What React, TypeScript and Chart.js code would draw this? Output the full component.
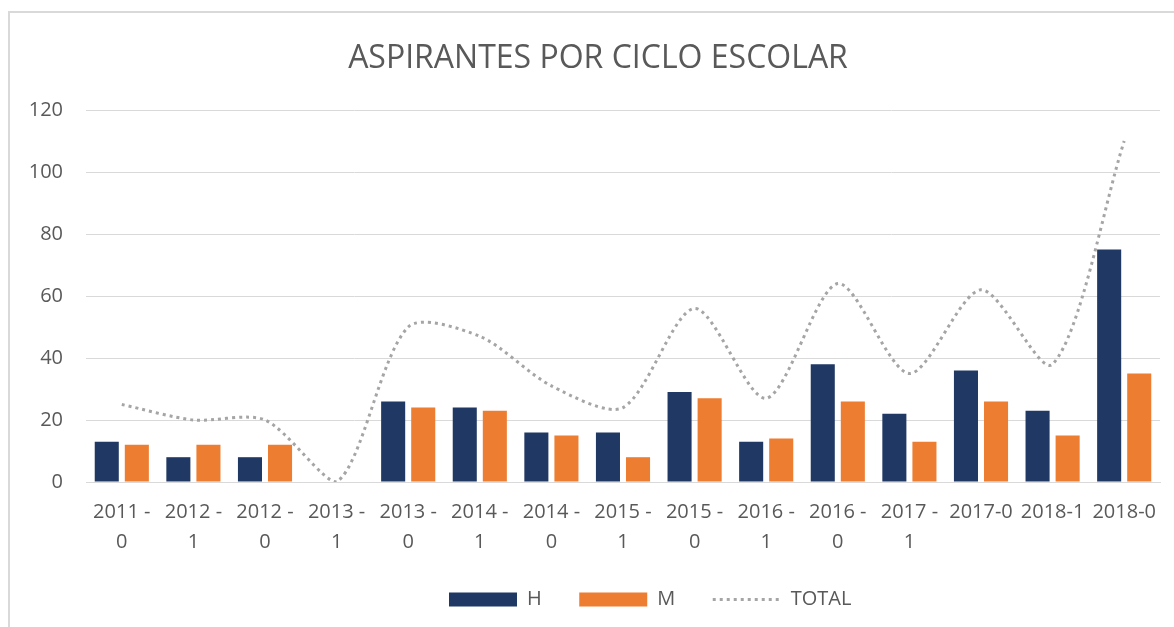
import React, { useEffect, useRef } from "react";
import { Chart, registerables } from "chart.js";

Chart.register(...registerables);

const chartTitle = "ASPIRANTES POR CICLO ESCOLAR";
const categories: (string | string[])[] = [
  ["2011 -", "0"],
  ["2012 -", "1"],
  ["2012 -", "0"],
  ["2013 -", "1"],
  ["2013 -", "0"],
  ["2014 -", "1"],
  ["2014 -", "0"],
  ["2015 -", "1"],
  ["2015 -", "0"],
  ["2016 -", "1"],
  ["2016 -", "0"],
  ["2017 -", "1"],
  "2017-0",
  "2018-1",
  "2018-0",
];
const hValues = [13, 8, 8, 0, 26, 24, 16, 16, 29, 13, 38, 22, 36, 23, 75];
const mValues = [12, 12, 12, 0, 24, 23, 15, 8, 27, 14, 26, 13, 26, 15, 35];
const totalValues = [25, 20, 20, 0, 50, 47, 31, 24, 56, 27, 64, 35, 62, 38, 110];
const seriesNames = ["H", "M", "TOTAL"];
const yTicks = [0, 20, 40, 60, 80, 100, 120];

const W = 1174;
const H = 627;
const LEGEND_START_X = 449;
const TITLE_SHIFT_X = 18;
const TEXT = "#595959";
const GRID = "#d9d9d9";

const blockShift = {
  id: "blockShift",
  afterLayout(chart: any) {
    const lg = chart.legend;
    if (lg && lg.lineWidths) {
      const pad = lg.options.labels.padding;
      const x0 = (lg.left + pad + lg.right - lg.lineWidths[0]) / 2;
      const dx = LEGEND_START_X - x0;
      lg.left += dx;
      lg.right += dx;
    }
    const tb = chart.titleBlock;
    if (tb) {
      tb.left += TITLE_SHIFT_X;
      tb.right += TITLE_SHIFT_X;
    }
  },
};

export default function App() {
  const ref = useRef<HTMLCanvasElement | null>(null);

  useEffect(() => {
    if (!ref.current) return;
    const chart = new Chart(ref.current, {
      type: "bar",
      data: {
        labels: categories,
        datasets: [
          {
            type: "bar",
            label: seriesNames[0],
            data: hValues,
            backgroundColor: "#203864",
            borderWidth: 0,
            categoryPercentage: 0.84,
            barPercentage: 0.8,
          },
          {
            type: "bar",
            label: seriesNames[1],
            data: mValues,
            backgroundColor: "#ED7D31",
            borderWidth: 0,
            categoryPercentage: 0.84,
            barPercentage: 0.8,
          },
          {
            type: "line",
            label: seriesNames[2],
            data: totalValues,
            borderColor: "#A5A5A5",
            backgroundColor: "#A5A5A5",
            borderWidth: 3,
            borderDash: [3, 4],
            pointRadius: 0,
            tension: 0.28,
            fill: false,
            order: -1,
          } as any,
        ],
      },
      options: {
        responsive: false,
        animation: false,
        devicePixelRatio: 1,
        font: { family: "'Open Sans', sans-serif" },
        layout: { padding: { left: 0, right: 14, top: 0, bottom: 7.5 } },
        plugins: {
          title: {
            display: true,
            text: chartTitle,
            color: TEXT,
            font: { family: "'Open Sans', sans-serif", size: 32, weight: "normal", lineHeight: 1.2 },
            padding: { top: 40, bottom: 31.6 },
          },
          legend: {
            display: true,
            position: "bottom",
            labels: {
              usePointStyle: true,
              pointStyleWidth: 68,
              boxHeight: 14,
              padding: 37.5,
              color: TEXT,
              font: { family: "'Open Sans', sans-serif", size: 20 },
              sort: (a: any, b: any) => a.datasetIndex - b.datasetIndex,
              generateLabels: (c: any) => {
                const items = (Chart.defaults.plugins.legend.labels as any).generateLabels(c);
                return items.map((it: any) => {
                  if (it.datasetIndex === 2) {
                    return {
                      ...it,
                      pointStyle: "line",
                      lineDash: [3, 4],
                      lineWidth: 3,
                      strokeStyle: "#A5A5A5",
                      fillStyle: "#A5A5A5",
                    };
                  }
                  return { ...it, pointStyle: "rect", lineWidth: 0 };
                });
              },
            },
          },
          tooltip: { enabled: false },
        },
        scales: {
          x: {
            grid: { display: false, drawTicks: false },
            border: { display: true, color: GRID, width: 1 },
            ticks: {
              color: TEXT,
              autoSkip: false,
              maxRotation: 0,
              minRotation: 0,
              padding: 15.5,
              font: { family: "'Open Sans', sans-serif", size: 20, lineHeight: 1.5 },
            },
            afterFit: (s: any) => {
              s.height = 70;
            },
          },
          y: {
            min: 0,
            max: 120,
            afterBuildTicks: (s: any) => {
              s.ticks = yTicks.map((v) => ({ value: v }));
            },
            grid: { color: GRID, lineWidth: 1, drawTicks: false },
            border: { display: false },
            ticks: {
              color: TEXT,
              padding: 23,
              font: { family: "'Open Sans', sans-serif", size: 20 },
            },
            afterFit: (s: any) => {
              s.width = 86;
            },
          },
        },
      },
      plugins: [blockShift],
    } as any);
    return () => chart.destroy();
  }, []);

  return (
    <div style={{ position: "absolute", left: 0, top: 0, width: W, height: H, background: "#fff", overflow: "hidden" }}>
      <div
        style={{
          position: "absolute",
          left: 8,
          top: 11,
          width: W,
          height: H,
          borderLeft: "2px solid #d9d9d9",
          borderTop: "2px solid #d9d9d9",
          boxSizing: "border-box",
        }}
      />
      <canvas ref={ref} width={W} height={H} style={{ position: "absolute", left: 0, top: 0, width: W, height: H }} />
    </div>
  );
}
